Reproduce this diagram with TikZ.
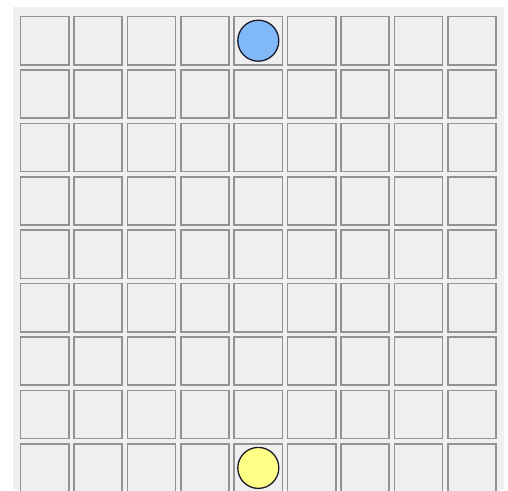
\documentclass[tikz,border=0pt]{standalone}
\usetikzlibrary{calc}
\definecolor{bgc}{HTML}{F0F0F0}
\definecolor{cellc}{HTML}{EFEFEF}
\definecolor{cellb}{HTML}{929292}
\definecolor{bluec}{HTML}{80B8F8}
\definecolor{yellowc}{HTML}{FFFF88}
\definecolor{ringc}{HTML}{1A1A2A}
\tikzset{
  cellbox/.style={draw=cellb, fill=cellc, line width=1.5pt, minimum size=48.2pt, inner sep=0pt, outer sep=0pt},
  piece/.style={circle, draw=ringc, line width=1.3pt, minimum size=41pt, inner sep=0pt}
}
\begin{document}
\begin{tikzpicture}[x=1pt,y=-1pt]
\useasboundingbox (0,0) rectangle (508,490);
\fill[white] (0,0) rectangle (508,490);
\fill[bgc] (13,7) rectangle (504,490);
\begin{scope}
\clip (0,0) rectangle (508,490);
\foreach \r in {1,...,9}{
  \foreach \c in {1,...,9}{
    \node[cellbox] (c\r-\c) at ({20+24.7+(\c-1)*53.4},{16+24.7+(\r-1)*53.4}) {};
  }
}
\end{scope}
\node[piece, fill=bluec] (blue) at (c1-5) {};
\node[piece, fill=yellowc] (yellow) at (c9-5) {};
\end{tikzpicture}
\end{document}
